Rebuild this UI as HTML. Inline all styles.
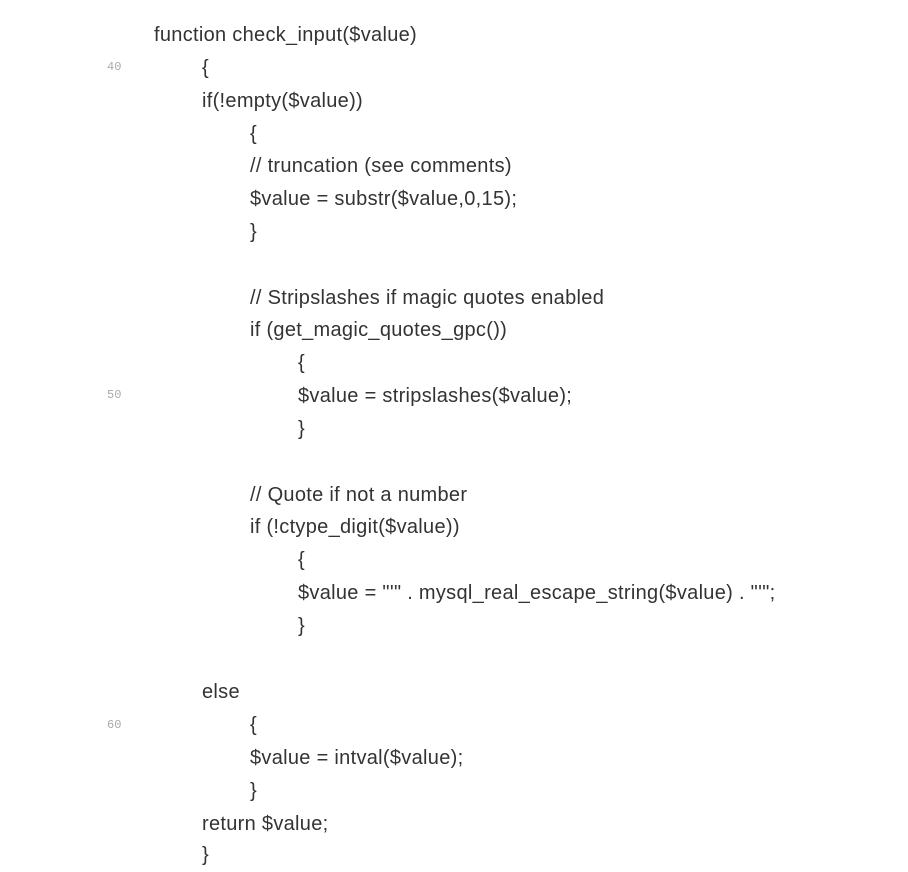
<!DOCTYPE html>
<html><head><meta charset="utf-8"><style>
html,body{margin:0;padding:0;background:#fff;width:908px;height:856px;overflow:hidden}
.l{position:absolute;height:33px;line-height:33px;font-family:"Liberation Sans",sans-serif;font-size:20px;letter-spacing:0.3px;color:#333;white-space:pre}
.n{position:absolute;left:107px;font-family:"Liberation Mono",monospace;font-size:12px;color:#aaa;line-height:16px}
</style></head><body>
<div class="l" style="left:154px;top:19px">function check_input($value)</div>
<div class="n" style="top:59px">40</div>
<div class="l" style="left:202px;top:52px">{</div>
<div class="l" style="left:202px;top:85px">if(!empty($value))</div>
<div class="l" style="left:250px;top:118px">{</div>
<div class="l" style="left:250px;top:150px">// truncation (see comments)</div>
<div class="l" style="left:250px;top:183px">$value = substr($value,0,15);</div>
<div class="l" style="left:250px;top:216px">}</div>
<div class="l" style="left:250px;top:282px">// Stripslashes if magic quotes enabled</div>
<div class="l" style="left:250px;top:314px">if (get_magic_quotes_gpc())</div>
<div class="l" style="left:298px;top:347px">{</div>
<div class="n" style="top:387px">50</div>
<div class="l" style="left:298px;top:380px">$value = stripslashes($value);</div>
<div class="l" style="left:298px;top:413px">}</div>
<div class="l" style="left:250px;top:479px">// Quote if not a number</div>
<div class="l" style="left:250px;top:511px">if (!ctype_digit($value))</div>
<div class="l" style="left:298px;top:544px">{</div>
<div class="l" style="left:298px;top:577px">$value = "'" . mysql_real_escape_string($value) . "'";</div>
<div class="l" style="left:298px;top:610px">}</div>
<div class="l" style="left:202px;top:676px">else</div>
<div class="n" style="top:717px">60</div>
<div class="l" style="left:250px;top:709px">{</div>
<div class="l" style="left:250px;top:742px">$value = intval($value);</div>
<div class="l" style="left:250px;top:775px">}</div>
<div class="l" style="left:202px;top:808px">return $value;</div>
<div class="l" style="left:202px;top:839px">}</div>
</body></html>
